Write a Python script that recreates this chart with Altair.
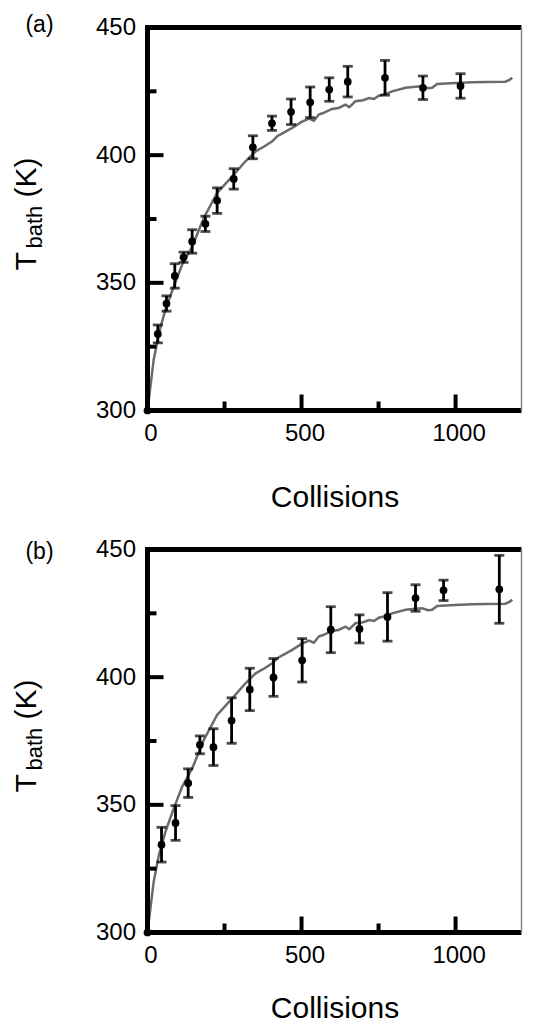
import altair as alt
import pandas as pd

FONT = "Liberation Sans"

# simulated bath temperature curve (same in both panels)
curve_x = [0, 4, 20, 37, 58, 85, 112, 145, 183, 226, 275, 318, 351, 380, 405, 421, 445, 470,
           500, 524, 540, 556, 570, 599, 620, 643, 655, 675, 700, 719, 735, 751, 775, 794,
           838, 870, 892, 910, 924, 940, 1000, 1054, 1100, 1162, 1175, 1184]
curve_y = [300, 304, 319.8, 330.3, 339.4, 348.5, 357, 364.2, 375.5, 385.2, 391.7, 397.6, 401.5,
           403.5, 405.4, 407.4, 409, 410.7, 413, 414.3, 413.5, 415.9, 416.5, 418.1, 418.5, 419.8,
           418.8, 421.1, 421.5, 422.4, 422, 423.3, 424, 425, 426.4, 426.8, 427, 426.2, 426.4,
           427.9, 428.3, 428.6, 428.7, 428.8, 429.5, 430.3]

# panel (a) measurements
a_x = [0, 33.5, 61.6, 88.6, 117, 145, 188, 226, 280, 342, 404, 466, 528, 590, 650, 771, 894, 1016]
a_y = [300, 330, 341.9, 352.7, 360, 366.2, 373.1, 382.2, 390.7, 403.1, 412.5, 417, 420.7, 425.7,
       428.8, 430.3, 426.4, 427.1]
a_err = [0, 3.5, 3, 4.8, 2, 4.6, 3, 5, 4, 4.5, 2.8, 5, 6, 4.6, 6, 6.8, 4.6, 4.8]

# panel (b) measurements
b_x = [0, 45.5, 91, 132, 170, 214, 273, 332, 409, 502, 595, 688, 779, 870, 961, 1142]
b_y = [300, 334.4, 342.9, 358.5, 373.5, 372.6, 383, 395.2, 399.9, 406.6, 418.6, 418.9, 423.6,
       431, 434, 434.4]
b_err = [0, 6.8, 6.8, 5.6, 3.5, 7.2, 8.9, 8.3, 7.4, 8.5, 9, 5.5, 9.5, 5.2, 4, 13.3]

x_labels = [0, 500, 1000]
y_labels = [300, 350, 400, 450]
x_major = [500, 1000]
x_minor = [250, 750]
y_major = [350, 400, 450]
y_minor = [325, 375, 425]

W, H = 374, 383
XDOM = [0, 1214]
YDOM = [300, 450]


def xenc(field, tpad):
    return alt.X(field, type="quantitative",
                 scale=alt.Scale(domain=XDOM, nice=False, zero=False),
                 axis=alt.Axis(values=x_labels, format="d", title="Collisions", labelFlush=False,
                               labelOffset=3, labelPadding=11, titlePadding=tpad, domain=False))


def yenc(field):
    return alt.Y(field, type="quantitative",
                 scale=alt.Scale(domain=YDOM, nice=False, zero=False),
                 axis=alt.Axis(values=y_labels, title=None, labelPadding=12, domain=False))


def panel(xs, ys, errs, tag, tag_y, tpad):
    X = lambda f: xenc(f, tpad)
    curve = pd.DataFrame({"x": curve_x, "y": curve_y})
    pts = pd.DataFrame({"x": xs, "y": ys, "err": errs})
    eb = pts[pts["err"] > 0]

    line = alt.Chart(curve).mark_line(color="#6b6b6b", strokeWidth=2.5).encode(
        x=X("x"), y=yenc("y"))
    base_eb = alt.Chart(eb).transform_calculate(lo="datum.y - datum.err", hi="datum.y + datum.err")
    rule = base_eb.mark_rule(color="black", strokeWidth=2.8).encode(
        x=X("x"), y=yenc("lo"), y2="hi:Q")
    cap_lo = base_eb.mark_tick(orient="horizontal", size=10, thickness=2.8, color="black").encode(
        x=X("x"), y=yenc("lo"))
    cap_hi = base_eb.mark_tick(orient="horizontal", size=10, thickness=2.8, color="black").encode(
        x=X("x"), y=yenc("hi"))
    dots = alt.Chart(pts).mark_circle(size=60, color="black", opacity=1).encode(
        x=X("x"), y=yenc("y"))

    ytm = alt.Chart(pd.DataFrame({"v": y_major})).mark_rule(color="black", strokeWidth=4).encode(
        y=yenc("v"), x=alt.value(0), x2=alt.value(16))
    ytn = alt.Chart(pd.DataFrame({"v": y_minor})).mark_rule(color="black", strokeWidth=4).encode(
        y=yenc("v"), x=alt.value(0), x2=alt.value(9))
    xtm = alt.Chart(pd.DataFrame({"v": x_major})).mark_rule(color="black", strokeWidth=4).encode(
        x=X("v"), y=alt.value(H), y2=alt.value(H - 16))
    xtn = alt.Chart(pd.DataFrame({"v": x_minor})).mark_rule(color="black", strokeWidth=4).encode(
        x=X("v"), y=alt.value(H), y2=alt.value(H - 9))

    one = pd.DataFrame({"k": [1]})
    top = alt.Chart(one).mark_rule(color="black", strokeWidth=5).encode(
        x=alt.value(0), x2=alt.value(W), y=alt.value(0))
    left = alt.Chart(one).mark_rule(color="black", strokeWidth=5).encode(
        x=alt.value(0), y=alt.value(-2.5), y2=alt.value(H + 2.5))
    bottom = alt.Chart(one).mark_rule(color="black", strokeWidth=5).encode(
        x=alt.value(-2.5), x2=alt.value(W), y=alt.value(H))
    right = alt.Chart(one).mark_rule(color="#888888", strokeWidth=1.5).encode(
        x=alt.value(W), y=alt.value(0), y2=alt.value(H))

    tagm = alt.Chart(pd.DataFrame({"t": [tag]})).mark_text(
        font=FONT, fontSize=23, align="center", baseline="middle", color="black").encode(
        text="t:N", x=alt.value(-108), y=alt.value(tag_y))
    tT = alt.Chart(pd.DataFrame({"t": ["T"]})).mark_text(
        font=FONT, fontSize=30, angle=270, align="left", baseline="alphabetic", color="black").encode(
        text="t:N", x=alt.value(-112), y=alt.value(243))
    tsub = alt.Chart(pd.DataFrame({"t": ["bath"]})).mark_text(
        font=FONT, fontSize=22, angle=270, align="left", baseline="alphabetic", color="black").encode(
        text="t:N", x=alt.value(-106), y=alt.value(221))
    tK = alt.Chart(pd.DataFrame({"t": ["(K)"]})).mark_text(
        font=FONT, fontSize=30, angle=270, align="left", baseline="alphabetic", color="black").encode(
        text="t:N", x=alt.value(-112), y=alt.value(170))

    return alt.layer(line, rule, cap_lo, cap_hi, dots, ytm, ytn, xtm, xtn, top, left, bottom,
                     right, tagm, tT, tsub, tK).properties(width=W, height=H)


pa = panel(a_x, a_y, a_err, "(a)", -3, 37)
pb = panel(b_x, b_y, b_err, "(b)", 2, 26)

chart = alt.vconcat(pa, pb, spacing=25).properties(
    padding={"left": 3.5, "top": 5.5, "right": 0, "bottom": 0}
).configure_view(stroke=None).configure_axis(
    labelFont=FONT, labelFontSize=24, labelColor="black",
    titleFont=FONT, titleFontSize=30, titleFontWeight="normal", titleColor="black",
    ticks=False, grid=False,
)

chart.save("out.html", embed_options={"renderer": "svg", "actions": False})
